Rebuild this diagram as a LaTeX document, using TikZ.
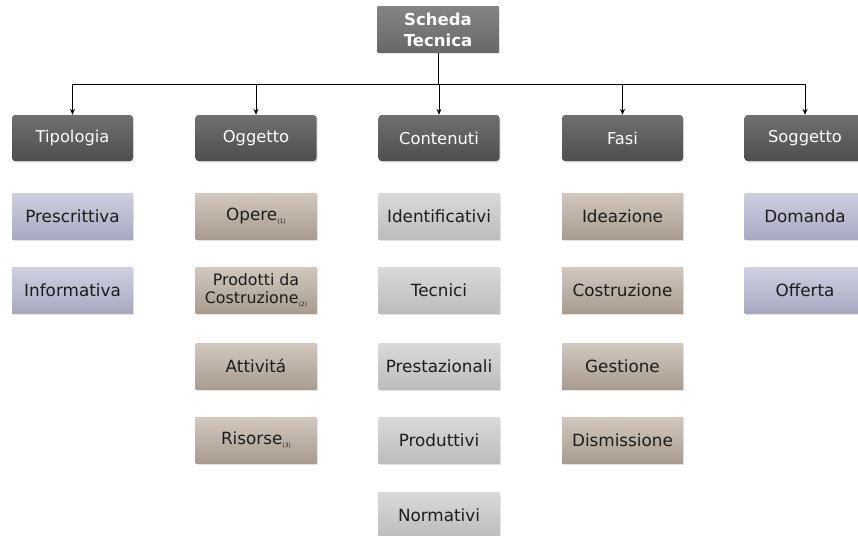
\documentclass[tikz,border=0pt]{standalone}
\usepackage{fontspec}
\setmainfont{DejaVu Sans}
\usetikzlibrary{arrows.meta,shadows}

\definecolor{headtop}{RGB}{112,112,112}
\definecolor{headbot}{RGB}{78,78,78}
\definecolor{roottop}{RGB}{132,132,132}
\definecolor{rootbot}{RGB}{104,104,104}
\definecolor{lilactop}{RGB}{208,208,226}
\definecolor{lilacbot}{RGB}{168,168,194}
\definecolor{taupetop}{RGB}{210,200,190}
\definecolor{taupebot}{RGB}{168,156,143}
\definecolor{greytop}{RGB}{218,218,218}
\definecolor{greybot}{RGB}{188,188,188}
\definecolor{inktext}{RGB}{28,28,28}

\tikzset{
  boxbase/.style={minimum width=121pt, minimum height=46pt, inner sep=1pt,
    align=center, drop shadow={opacity=0.22, shadow xshift=1pt, shadow yshift=-1.5pt}},
  rootbox/.style={boxbase, top color=roottop, bottom color=rootbot,
    text=white, font=\bfseries\fontsize{16.5}{21}\selectfont},
  headbox/.style={boxbase, rounded corners=3pt, top color=headtop, bottom color=headbot,
    text=white, font=\fontsize{16.3}{19}\selectfont},
  childbox/.style={boxbase, text=inktext, font=\fontsize{16.8}{19.5}\selectfont},
  lilacbox/.style={childbox, top color=lilactop, bottom color=lilacbot},
  taupebox/.style={childbox, top color=taupetop, bottom color=taupebot},
  greybox/.style={childbox, top color=greytop, bottom color=greybot},
  link/.style={line width=0.8pt, black},
  feed/.style={link, -{Stealth[length=6pt,width=5pt]}},
}
\newcommand{\refmark}[1]{\raisebox{-0.3ex}{\fontsize{6}{6}\selectfont(#1)}}

\begin{document}
\begin{tikzpicture}[x=1pt, y=-1pt]
  \clip (0,0) rectangle (858,535);
  \fill[white] (0,0) rectangle (858,535);

  % root
  \node[rootbox] (root) at (438,29.5) {Scheda\\Tecnica};

  % category headers
  \node[headbox] (tip) at (72.5,138) {Tipologia};
  \node[headbox] (ogg) at (256,138) {Oggetto};
  \node[headbox] (con) at (439,138) {Contenuti};
  \node[headbox] (fas) at (622.5,138) {Fasi};
  \node[headbox] (sog) at (805,138) {Soggetto};

  % distribution bus
  \coordinate (bus) at (438,84);
  \draw[link] (root.south) -- (root.south |- bus);
  \draw[link] (tip.north |- bus) -- (sog.north |- bus);
  \foreach \h in {tip,ogg,con,fas,sog}
    \draw[feed] (\h.north |- bus) -- (\h.north);

  % Tipologia
  \node[lilacbox] (t1) at (72.5,216) {Prescrittiva};
  \node[lilacbox] (t2) at (72.5,290) {Informativa};

  % Oggetto
  \node[taupebox] (o1) at (256,216) {Opere\refmark{1}};
  \node[taupebox, font=\fontsize{15.8}{18.5}\selectfont] (o2) at (256,290) {Prodotti da\\Costruzione\refmark{2}};
  \node[taupebox] (o3) at (256,366) {Attivitá};
  \node[taupebox] (o4) at (256,440) {Risorse\refmark{3}};

  % Contenuti
  \node[greybox] (c1) at (439,216) {Identificativi};
  \node[greybox] (c2) at (439,290) {Tecnici};
  \node[greybox] (c3) at (439,366) {Prestazionali};
  \node[greybox] (c4) at (439,440) {Produttivi};
  \node[greybox] (c5) at (439,515) {Normativi};

  % Fasi
  \node[taupebox] (f1) at (622.5,216) {Ideazione};
  \node[taupebox] (f2) at (622.5,290) {Costruzione};
  \node[taupebox] (f3) at (622.5,366) {Gestione};
  \node[taupebox] (f4) at (622.5,440) {Dismissione};

  % Soggetto
  \node[lilacbox] (s1) at (805,216) {Domanda};
  \node[lilacbox] (s2) at (805,290) {Offerta};
\end{tikzpicture}
\end{document}
